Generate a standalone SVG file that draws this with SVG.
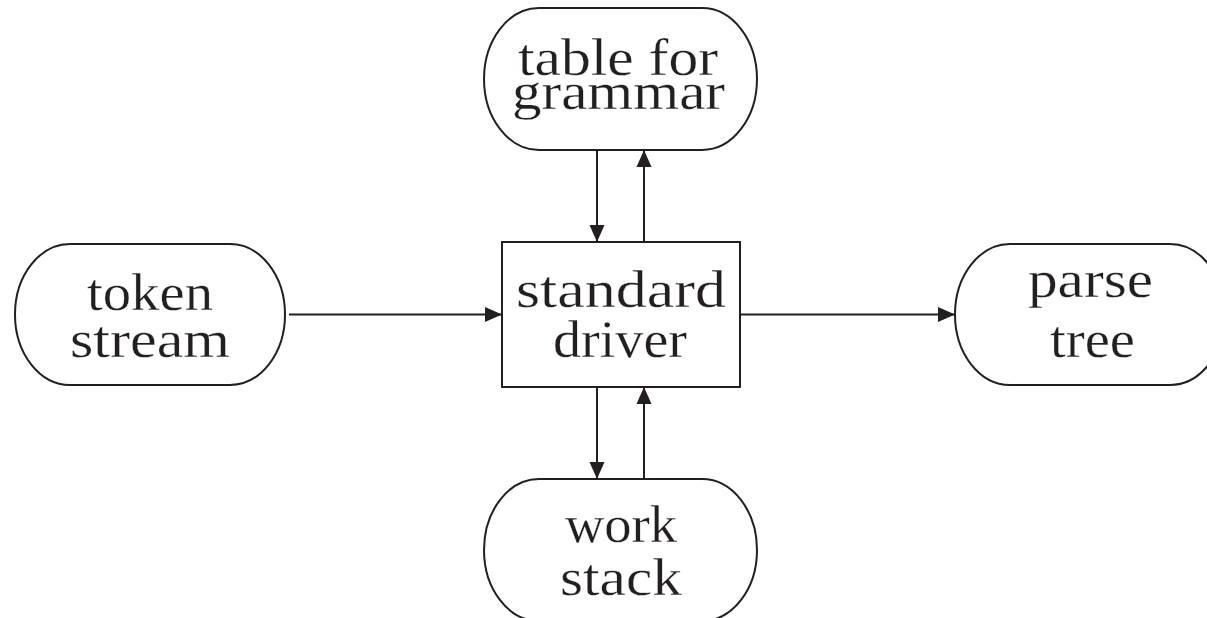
<svg xmlns="http://www.w3.org/2000/svg" width="1207" height="618" viewBox="0 0 1207 618">
<style>
.n{fill:#fff;stroke:#231f20;stroke-width:2}
.t{font-family:"Liberation Serif","Times New Roman",serif;font-size:53px;fill:#231f20;stroke:#fff;stroke-width:0.3px;text-anchor:middle}
.c{stroke:#231f20;stroke-width:2;fill:none;marker-end:url(#ah)}
</style>
<defs>
<marker id="ah" markerUnits="userSpaceOnUse" markerWidth="18" markerHeight="16" viewBox="0 -8 18 16" refX="17" refY="0" orient="auto">
<path d="M0,-7.5 L17,0 L0,7.5 Z" fill="#231f20"/>
</marker>
</defs>
<rect width="1207" height="618" fill="#fff"/>
<g id="connectors">
<line class="c" x1="289" y1="314.5" x2="502" y2="314.5"/>
<line class="c" x1="740" y1="314.5" x2="955" y2="314.5"/>
<line class="c" x1="597" y1="150" x2="597" y2="242"/>
<line class="c" x1="644" y1="242" x2="644" y2="150"/>
<line class="c" x1="597" y1="387" x2="597" y2="479"/>
<line class="c" x1="644" y1="479" x2="644" y2="387"/>
</g>
<g id="table">
<path class="n" d="M539,8 H702 A55,71 0 0 1 702,150 H539 A55,71 0 0 1 539,8 Z"/>
<text class="t" x="618" y="75" textLength="200" lengthAdjust="spacingAndGlyphs">table for</text>
<text class="t" x="618.5" y="109" textLength="213" lengthAdjust="spacingAndGlyphs">grammar</text>
</g>
<g id="token">
<path class="n" d="M70,244 H230 A55,70.5 0 0 1 230,385 H70 A55,70.5 0 0 1 70,244 Z"/>
<text class="t" x="150" y="310" textLength="126" lengthAdjust="spacingAndGlyphs">token</text>
<text class="t" x="150" y="357" textLength="160" lengthAdjust="spacingAndGlyphs">stream</text>
</g>
<g id="driver">
<rect class="n" x="502" y="242" width="238" height="145"/>
<text class="t" x="621" y="307" textLength="210" lengthAdjust="spacingAndGlyphs">standard</text>
<text class="t" x="620" y="357" textLength="134" lengthAdjust="spacingAndGlyphs">driver</text>
</g>
<g id="parse">
<path class="n" d="M1010,244 H1170 A55,70.5 0 0 1 1170,385 H1010 A55,70.5 0 0 1 1010,244 Z"/>
<text class="t" x="1090.5" y="297" textLength="125" lengthAdjust="spacingAndGlyphs">parse</text>
<text class="t" x="1092.5" y="357" textLength="85" lengthAdjust="spacingAndGlyphs">tree</text>
</g>
<g id="stack">
<path class="n" d="M539,479 H702 A55,71 0 0 1 702,621 H539 A55,71 0 0 1 539,479 Z"/>
<text class="t" x="621" y="542" textLength="112" lengthAdjust="spacingAndGlyphs">work</text>
<text class="t" x="621" y="595" textLength="122" lengthAdjust="spacingAndGlyphs">stack</text>
</g>
</svg>
